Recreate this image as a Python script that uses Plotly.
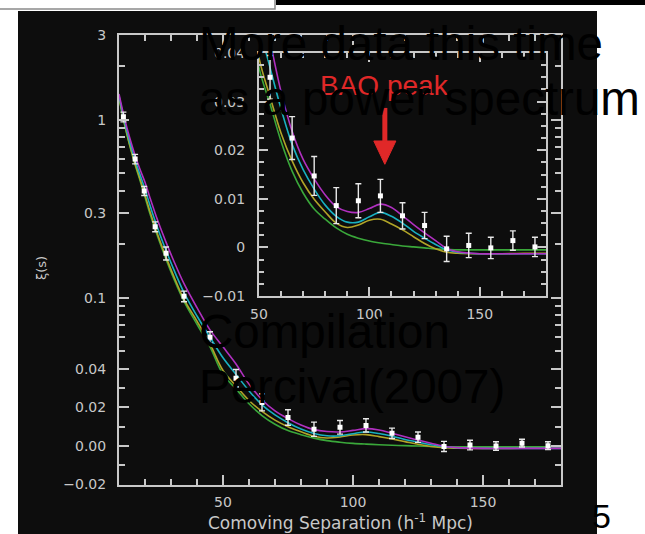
import numpy as np
import plotly.graph_objects as go

W, H = 645, 534

# ---------------- data ----------------
sep = [11.7, 16.2, 19.7, 23.9, 28.1, 35, 45, 55, 65, 75, 85, 95, 105, 115, 125, 135, 145, 155, 165, 175]
xi = [1.04, 0.603, 0.399, 0.251, 0.178, 0.102, 0.060, 0.035, 0.0225, 0.0147, 0.0086, 0.0096,
      0.0106, 0.0065, 0.0045, -0.0003, 0.0004, -0.0001, 0.0014, 0.0001]
xi_err = [0.065, 0.037, 0.023, 0.016, 0.015, 0.007, 0.0045, 0.0045, 0.0044, 0.004, 0.0037, 0.0035,
          0.0034, 0.0027, 0.0027, 0.0026, 0.0025, 0.0022, 0.002, 0.002]

model_sep = [10, 12, 14, 16, 18, 20, 22, 25, 28, 31, 35, 40, 45, 50, 55, 60, 65, 70, 75, 80, 85, 90,
             95, 100, 105, 110, 115, 120, 125, 130, 135, 140, 150, 160, 170, 180]
xi_magenta = [1.40, 1.036, 0.804, 0.644, 0.531, 0.446, 0.362, 0.269, 0.207, 0.162, 0.120, 0.088,
              0.066, 0.053, 0.0425, 0.032, 0.0239, 0.0181, 0.0141, 0.0108, 0.0084, 0.0074, 0.0072,
              0.0080, 0.0089, 0.0082, 0.0065, 0.0047, 0.0030, 0.0014, -0.0002, -0.0009, -0.0013,
              -0.0013, -0.0013, -0.0013]
xi_cyan = [1.37, 0.997, 0.765, 0.607, 0.496, 0.407, 0.328, 0.243, 0.186, 0.145, 0.107, 0.079,
           0.060, 0.046, 0.037, 0.0285, 0.0212, 0.016, 0.012, 0.0087, 0.0064, 0.0052, 0.0052,
           0.0063, 0.0072, 0.0064, 0.0050, 0.0033, 0.0019, 0.0006, -0.0005, -0.0010, -0.0013,
           -0.0013, -0.0013, -0.0013]
xi_yellow = [1.34, 0.968, 0.736, 0.58, 0.47, 0.378, 0.303, 0.224, 0.171, 0.133, 0.098, 0.074,
             0.055, 0.039, 0.031, 0.0235, 0.0178, 0.0133, 0.0099, 0.0073, 0.0050, 0.0041, 0.0046,
             0.0056, 0.0058, 0.0048, 0.0036, 0.0022, 0.0008, -0.0003, -0.0010, -0.0012, -0.0013,
             -0.0013, -0.0012, -0.0012]
xi_green = [1.33, 0.958, 0.726, 0.571, 0.461, 0.368, 0.294, 0.218, 0.166, 0.129, 0.0956, 0.071,
            0.053, 0.037, 0.0295, 0.0218, 0.0157, 0.0112, 0.0079, 0.0058, 0.0040, 0.0027, 0.0019,
            0.0013, 0.0009, 0.0006, 0.0003, 0.0001, -0.0001, -0.0003, -0.0004, -0.0005, -0.0005,
            -0.0005, -0.0005, -0.0005]

main_yticks = [3, 1, 0.3, 0.1, 0.04, 0.02, 0.0, -0.02]
main_yticktext = ["3", "1", "0.3", "0.1", "0.04", "0.02", "0.00", "\u22120.02"]
main_yminor = [2, 0.9, 0.8, 0.7, 0.6, 0.5, 0.4, 0.2, 0.09, 0.08, 0.07, 0.06, 0.05, 0.03, 0.01, -0.01]
inset_yticks = [-0.01, 0, 0.01, 0.02, 0.03, 0.04]
inset_yticktext = ["\u22120.01", "0", "0.01", "0.02", "0.03", "0.04"]
x_ticks = [50, 100, 150]

# ---------------- style ----------------
BG = "#0d0d0d"
AX = "#c8c8c8"
COLORS = {"green": "#3aa83a", "yellow": "#b0a428", "cyan": "#18b0c0", "magenta": "#b030c0"}
LIN = 0.04  # linear below this value, logarithmic above


def T(v):
    v = np.asarray(v, dtype=float)
    return np.where(v <= LIN, v / LIN, 1 + np.log(np.maximum(v, 1e-12) / LIN))


def px(x):
    return x / W


def py(y):
    return 1 - y / H


fig = go.Figure()
curves = [("green", xi_green), ("yellow", xi_yellow), ("cyan", xi_cyan), ("magenta", xi_magenta)]

# main panel
for name, vals in curves:
    fig.add_trace(go.Scatter(x=model_sep, y=T(vals), mode="lines", line=dict(color=COLORS[name], width=1.6, shape="spline"),
                             xaxis="x", yaxis="y", showlegend=False, hoverinfo="skip"))
xi_a = np.array(xi)
err_a = np.array(xi_err)
fig.add_trace(go.Scatter(x=sep, y=T(xi_a), mode="markers",
                         marker=dict(symbol="square", size=5, color="white"),
                         error_y=dict(type="data", symmetric=False, array=T(xi_a + err_a) - T(xi_a),
                                      arrayminus=T(xi_a) - T(xi_a - err_a), color="#e8e8e8", thickness=1.4, width=3),
                         xaxis="x", yaxis="y", showlegend=False))

# inset panel
for name, vals in curves:
    fig.add_trace(go.Scatter(x=model_sep, y=vals, mode="lines", line=dict(color=COLORS[name], width=1.6, shape="spline"),
                             xaxis="x2", yaxis="y2", showlegend=False, hoverinfo="skip"))
fig.add_trace(go.Scatter(x=sep, y=xi, mode="markers",
                         marker=dict(symbol="square", size=5, color="white"),
                         error_y=dict(type="data", array=xi_err, color="#e8e8e8", thickness=1.4, width=3),
                         xaxis="x2", yaxis="y2", showlegend=False))

tickfont = dict(family="DejaVu Sans", size=14, color=AX)
common = dict(showgrid=False, zeroline=False, showline=True, linecolor=AX, linewidth=2, mirror="allticks",
              ticks="inside", tickcolor=AX, tickwidth=1.5, tickfont=tickfont, automargin=False)

fig.update_layout(
    width=W, height=H, margin=dict(l=0, r=0, t=0, b=0),
    paper_bgcolor="white", plot_bgcolor=BG, showlegend=False,
    xaxis=dict(domain=[px(119), px(561)], range=[10, 180], anchor="y", tickmode="array", tickvals=x_ticks,
               ticklen=10, ticklabelstandoff=4,
               minor=dict(tickmode="linear", tick0=0, dtick=10, ticks="inside", ticklen=6, tickcolor=AX, tickwidth=1.5),
               **common),
    yaxis=dict(domain=[py(484.5), py(35)], range=[float(T(-0.02)), float(T(3))], anchor="x", tickmode="array",
               tickvals=T(main_yticks), ticktext=main_yticktext, ticklen=10, ticklabelstandoff=8,
               minor=dict(tickmode="array", tickvals=T(main_yminor), ticks="inside", ticklen=6, tickcolor=AX, tickwidth=1.5),
               **common),
    xaxis2=dict(domain=[px(259), px(546)], range=[50, 180], anchor="y2", tickmode="array", tickvals=x_ticks,
                ticklen=9, ticklabelstandoff=4,
                minor=dict(tickmode="linear", tick0=0, dtick=10, ticks="inside", ticklen=5, tickcolor=AX, tickwidth=1.5),
                **common),
    yaxis2=dict(domain=[py(296), py(53)], range=[-0.01, 0.04], anchor="x2", tickmode="array",
                tickvals=inset_yticks, ticktext=inset_yticktext, ticklen=9, ticklabelstandoff=9,
                minor=dict(tickmode="linear", tick0=0, dtick=0.0025, ticks="inside", ticklen=5, tickcolor=AX, tickwidth=1.5),
                **common),
)

# slide background pieces and the BAO arrow
ARROW_X, ARROW_TIP, ARROW_BASE, ARROW_TAIL, ARROW_HALF = 107, 0.0171, 0.0219, 0.0287, 5
fig.update_layout(shapes=[
    dict(type="rect", xref="paper", yref="paper", x0=px(18), x1=px(597), y0=-0.01, y1=py(11),
         fillcolor=BG, line=dict(width=0), layer="below"),
    dict(type="rect", xref="paper", yref="paper", x0=-0.01, x1=px(275), y0=py(9), y1=1.01,
         fillcolor="white", line=dict(color="#8a8a8a", width=1.5), layer="above"),
    dict(type="rect", xref="paper", yref="paper", x0=px(276), x1=1.01, y0=py(5), y1=1.01,
         fillcolor="black", line=dict(width=0), layer="above"),
    dict(type="line", xref="x2", yref="y2", x0=ARROW_X, x1=ARROW_X, y0=ARROW_BASE, y1=ARROW_TAIL,
         line=dict(color="#e02828", width=5), layer="above"),
    dict(type="path", xref="x2", yref="y2",
         path=f"M {ARROW_X - ARROW_HALF},{ARROW_BASE} L {ARROW_X + ARROW_HALF},{ARROW_BASE} L {ARROW_X},{ARROW_TIP} Z",
         fillcolor="#e02828", line=dict(color="#e02828", width=1), layer="above"),
])

ann = []
ann.append(dict(text="BAO peak", xref="paper", yref="paper", x=px(384), y=py(85.3), xanchor="center", yanchor="middle",
                showarrow=False, font=dict(family="Liberation Sans, Arial", size=28, color="#e02828")))
ann.append(dict(text="Comoving Separation (h<sup>-1</sup> Mpc)", xref="paper", yref="paper", x=px(340), y=py(522),
                xanchor="center", yanchor="middle", showarrow=False, font=dict(family="DejaVu Sans", size=17, color=AX)))
ann.append(dict(text="\u03be(s)", xref="paper", yref="paper", x=px(41), y=py(268), xanchor="center", yanchor="middle",
                textangle=-90, showarrow=False, font=dict(family="DejaVu Sans", size=13, color=AX)))
big = dict(family="Liberation Sans, Arial", size=47.5, color="black")
for txt, yc in [("More data this time", 43.5), ("as a power spectrum", 98.5), ("Compilation", 331.5), ("Percival(2007)", 386.5)]:
    ann.append(dict(text=txt, xref="paper", yref="paper", x=px(197), y=py(yc), xanchor="left", yanchor="middle",
                    showarrow=False, font=big))
ann.append(dict(text="5", xref="paper", yref="paper", x=px(601), y=py(516), xanchor="center", yanchor="middle",
                showarrow=False, font=dict(family="Liberation Sans, Arial", size=34, color="black")))
fig.update_layout(annotations=ann)

fig.write_html("out.html")
